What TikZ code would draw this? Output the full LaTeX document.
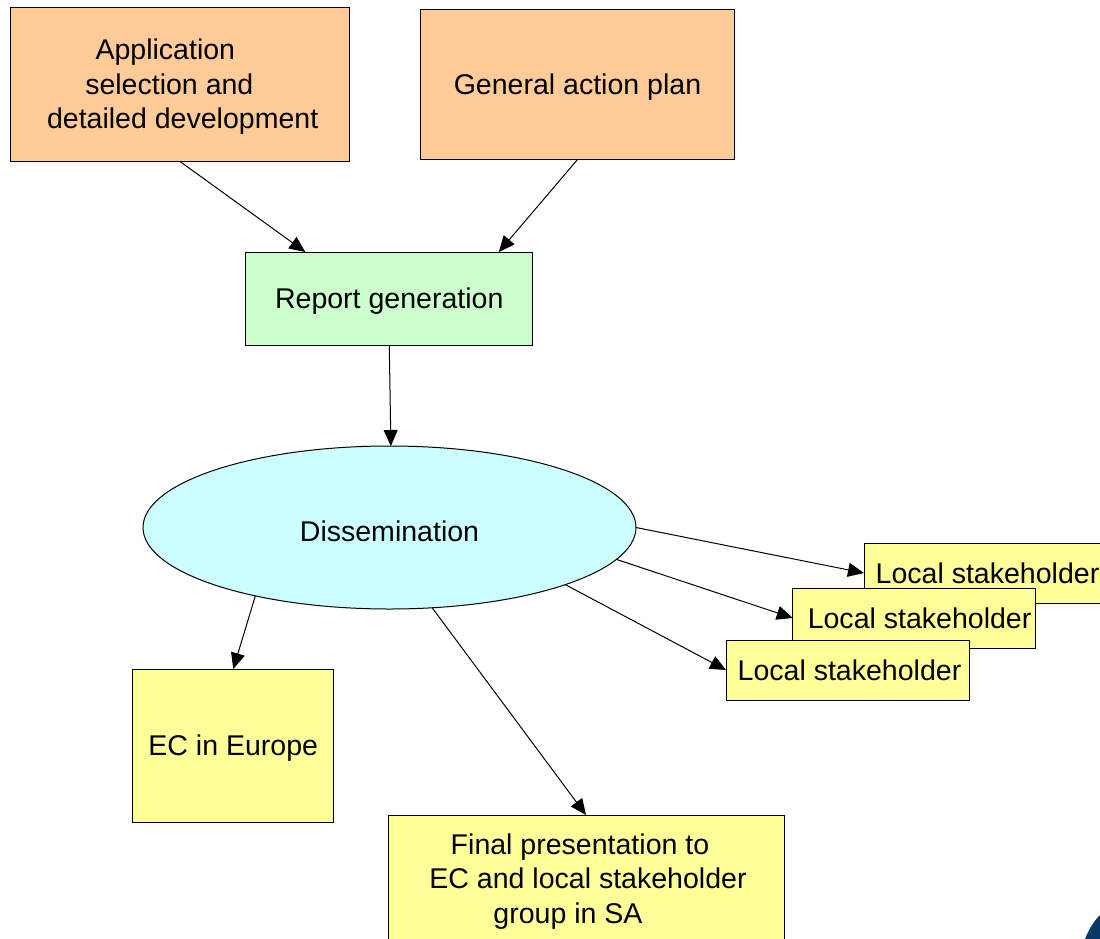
\documentclass[tikz,border=0pt]{standalone}
\usepackage{fontspec}
\setmainfont{Liberation Sans}
\usetikzlibrary{arrows.meta,shapes.geometric}

\tikzset{every picture/.style={line width=0.75pt}}
\tikzset{
  box/.style={draw,inner sep=0pt,outer sep=0pt,align=center,font=\fontsize{21.4}{26}\selectfont},
  lowtext/.style={execute at begin node={\rule{0pt}{#1}}},
  orangebox/.style={box,fill={rgb,255:red,255;green,204;blue,153}},
  greenbox/.style={box,fill={rgb,255:red,204;green,255;blue,204}},
  yellowbox/.style={box,fill={rgb,255:red,255;green,255;blue,153}},
  arrow/.style={-{Triangle[length=12pt,width=10.5pt]}}
}

\begin{document}
\begin{tikzpicture}[x=0.75pt,y=0.75pt,yscale=-1,xscale=1]
\useasboundingbox (0,0) rectangle (1100,939);

% Boxes at the top
\node (appl) [orangebox,text depth=1pt,minimum width=254.25pt,minimum height=115.5pt] at (180,84.5) {Application\kern22pt\\selection and\kern16pt\\detailed development\kern-4pt};
\node (plan) [orangebox,lowtext=19pt,minimum width=235.5pt,minimum height=112.5pt] at (577.5,84.5) {General action plan};
\node (report) [greenbox,lowtext=19pt,minimum width=215.25pt,minimum height=69.75pt] at (389.25,298.5) {Report generation};

% Ellipse
\node (dissem) [box,lowtext=20.5pt,ellipse,fill={rgb,255:red,204;green,255;blue,255},minimum width=369.75pt,minimum height=122.25pt] at (389.5,527.5) {Dissemination};

% Stakeholders
\node (local1) [yellowbox,minimum width=182.25pt,minimum height=45pt] at (985.5,573) {\hspace*{3pt}Local stakeholder};
\node (local2) [yellowbox,minimum width=182.25pt,minimum height=45pt] at (914.25,618) {\hspace*{8pt}Local stakeholder};
\node (local3) [yellowbox,minimum width=182.25pt,minimum height=45pt] at (847.5,670) {\hspace*{3pt}Local stakeholder};

% Lower boxes
\node (europe) [yellowbox,lowtext=19.5pt,minimum width=150.75pt,minimum height=114.75pt] at (233.25,745.5) {EC in Europe};
\node (final) [yellowbox,text depth=2.5pt,minimum width=297pt,minimum height=97.5pt] at (586,880) {Final presentation to\kern9pt\\\hspace*{3pt}EC and local stakeholder\\group in SA\kern27pt};

% Connectors
\draw [arrow] (appl.south) -- (report.151);
\draw [arrow] (plan.south) -- (report.23);
\draw [arrow] (report.south) -- (dissem.89);
\draw [arrow] (dissem.east) -- (local1.west);
\draw [arrow] (dissem.-8) -- (local2.west);
\draw [arrow] (dissem.-18) -- (local3.west);
\draw [arrow] (dissem.207) -- (europe.north);
\draw [arrow] (dissem.-62.5) -- (final.north);

% Corner of the logo
\fill [color={rgb,255:red,10;green,55;blue,105}] (1085,939) .. controls (1089,929) and (1094,921) .. (1100,915) -- (1100,939) -- cycle;

\end{tikzpicture}
\end{document}
